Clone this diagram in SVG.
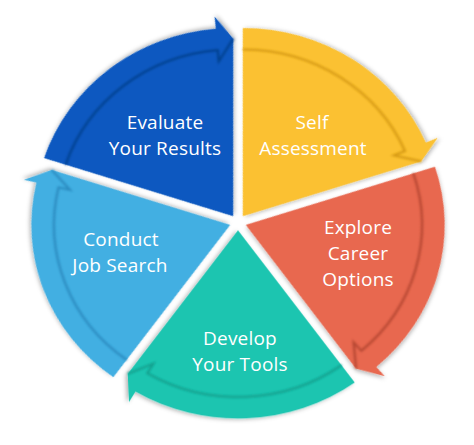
<svg xmlns="http://www.w3.org/2000/svg" width="474" height="445" viewBox="0 0 474 445">
<defs>
<filter id="ds" x="-20%" y="-20%" width="140%" height="140%">
<feDropShadow dx="1" dy="2" stdDeviation="2" flood-color="#000" flood-opacity="0.3"/>
</filter>
<filter id="blur" x="-10%" y="-10%" width="120%" height="120%">
<feGaussianBlur stdDeviation="0.9"/>
</filter>
<path id="seg" d="M0,0 L156.14,-113.44 A193,193 0 0 1 165.43,99.40 L176.15,105.84 L147.24,106.98 Z"/>
<path id="band" d="M138.34,-100.51 A171,171 0 0 1 146.58,88.07 L136.72,82.15 L147.24,106.98"/>
</defs>
<style>
.lbl{font-family:"Open Sans","Liberation Sans",sans-serif;font-size:19px;letter-spacing:0.2px;fill:#ffffff;text-anchor:middle}
.sh{fill:none;stroke-width:2.2;filter:url(#blur)}
</style>
<rect width="474" height="445" fill="#ffffff"/>
<g id="evaluate-your-results">
<g transform="translate(238,222.5) scale(1.03,0.975) rotate(234) translate(8,0)">
<use href="#seg" fill="#0b59c0" filter="url(#ds)"/>
<use href="#band" class="sh" stroke="#06418e"/>
</g>
<text class="lbl" x="165" y="129">Evaluate</text>
<text class="lbl" x="165" y="155">Your Results</text>
</g>
<g id="self-assessment">
<g transform="translate(238,222.5) scale(1.03,0.975) rotate(-54) translate(8,0)">
<use href="#seg" fill="#fbc131" filter="url(#ds)"/>
<use href="#band" class="sh" stroke="#d69a12"/>
</g>
<text class="lbl" x="312" y="129">Self</text>
<text class="lbl" x="313" y="155">Assessment</text>
</g>
<g id="explore-career-options">
<g transform="translate(238,222.5) scale(1.03,0.975) rotate(18) translate(8,0)">
<use href="#seg" fill="#e8684f" filter="url(#ds)"/>
<use href="#band" class="sh" stroke="#b54632"/>
</g>
<text class="lbl" x="358" y="234">Explore</text>
<text class="lbl" x="358" y="260">Career</text>
<text class="lbl" x="358" y="286">Options</text>
</g>
<g id="develop-your-tools">
<g transform="translate(238,222.5) scale(1.03,0.975) rotate(90) translate(8,0)">
<use href="#seg" fill="#1dc5b0" filter="url(#ds)"/>
<use href="#band" class="sh" stroke="#12a08e"/>
</g>
<text class="lbl" x="240" y="345">Develop</text>
<text class="lbl" x="240" y="371">Your Tools</text>
</g>
<g id="conduct-job-search">
<g transform="translate(238,222.5) scale(1.03,0.975) rotate(162) translate(8,0)">
<use href="#seg" fill="#43afe2" filter="url(#ds)"/>
<use href="#band" class="sh" stroke="#2b8bc0"/>
</g>
<text class="lbl" x="121" y="246">Conduct</text>
<text class="lbl" x="120" y="272">Job Search</text>
</g>
</svg>
